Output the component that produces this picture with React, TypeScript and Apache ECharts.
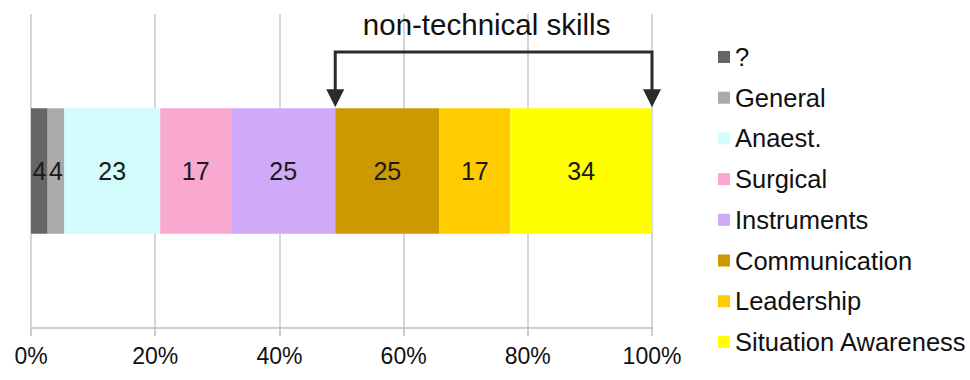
import React, { useEffect, useRef } from "react";
import * as echarts from "echarts";

// One stacked bar of error counts by category, axis shown as share of the total
const categories = ["Errors"];
const seriesNames = [
  "?",
  "General",
  "Anaest.",
  "Surgical",
  "Instruments",
  "Communication",
  "Leadership",
  "Situation Awareness",
];
const seriesValues = [4, 4, 23, 17, 25, 25, 17, 34];
const seriesColors = [
  "#666666",
  "#aaaaaa",
  "#d2fbfb",
  "#f9a8d0",
  "#d0aaf9",
  "#cc9a00",
  "#ffcc00",
  "#ffff00",
];
const tickCount = 5; // 0%, 20%, ... 100%
const bracketTitle = "non-technical skills";
const bracketFromIndex = 5; // first series counted as a non-technical skill

const FONT = "'Liberation Sans', Arial, sans-serif";
const GRID = { left: 31, right: 318, top: 14, bottom: 52 };
const BAR_RATIO = 0.4;
const INK = "#2b2b2b";

export default function App() {
  const ref = useRef<HTMLDivElement>(null);

  useEffect(() => {
    if (!ref.current) return;
    const chart = echarts.init(ref.current, undefined, { renderer: "svg" });
    const total = seriesValues.reduce((a, b) => a + b, 0);

    chart.setOption({
      animation: false,
      textStyle: { fontFamily: FONT },
      grid: { ...GRID, containLabel: false },
      legend: {
        orient: "vertical",
        left: 718,
        top: 44,
        padding: 0,
        itemWidth: 12,
        itemHeight: 12,
        itemGap: 14.7,
        icon: "rect",
        data: seriesNames,
        selectedMode: false,
        textStyle: { fontSize: 25.5, color: "#111", lineHeight: 26, fontFamily: FONT },
      },
      xAxis: {
        type: "value",
        min: 0,
        max: total,
        interval: total / tickCount,
        axisLine: { show: true, lineStyle: { color: "#bdbdbd", width: 1.5 } },
        axisTick: { show: true, length: 8, lineStyle: { color: "#bdbdbd", width: 1.5 } },
        splitLine: { show: true, lineStyle: { color: "#c8c8c8", width: 1.5 } },
        axisLabel: {
          margin: 16,
          fontSize: 23,
          color: "#111",
          fontFamily: FONT,
          formatter: (v: number) => Math.round((v / total) * 100) + "%",
        },
      },
      yAxis: {
        type: "category",
        data: categories,
        axisLine: { show: false },
        axisTick: { show: false },
        axisLabel: { show: false },
      },
      series: seriesNames.map((name, i) => ({
        name,
        type: "bar",
        stack: "all",
        barWidth: `${BAR_RATIO * 100}%`,
        data: [seriesValues[i]],
        itemStyle: { color: seriesColors[i] },
        label: {
          show: true,
          position: "inside",
          fontSize: 25,
          color: "#1a1a1a",
          fontFamily: FONT,
          formatter: "{c}",
        },
      })),
    });

    // Bracket over the non-technical skills, placed via the chart's own scales
    const startVal = seriesValues.slice(0, bracketFromIndex).reduce((a, b) => a + b, 0);
    const x1 = chart.convertToPixel({ xAxisIndex: 0 }, startVal) as number;
    const x2 = chart.convertToPixel({ xAxisIndex: 0 }, total) as number;
    const yc = chart.convertToPixel({ yAxisIndex: 0 }, categories[0]) as number;
    const plotH = 380 - GRID.top - GRID.bottom;
    const barTop = yc - (plotH * BAR_RATIO) / 2;
    const lineY = 52;
    const headH = 18;
    const headW = 18;
    const tipY = barTop - 1;
    const shaftEnd = tipY - headH + 1;

    const head = (x: number) => ({
      type: "polygon",
      shape: {
        points: [
          [x - headW / 2, tipY - headH],
          [x + headW / 2, tipY - headH],
          [x, tipY],
        ],
      },
      style: { fill: INK },
    });

    chart.setOption({
      graphic: [
        {
          type: "polyline",
          shape: {
            points: [
              [x1, shaftEnd],
              [x1, lineY],
              [x2, lineY],
              [x2, shaftEnd],
            ],
          },
          style: { stroke: INK, lineWidth: 3, fill: null },
        },
        head(x1),
        head(x2),
        {
          type: "text",
          x: (x1 + x2) / 2 - 7,
          y: 24,
          style: {
            text: bracketTitle,
            fontSize: 29.5,
            fontFamily: FONT,
            fill: "#111",
            textAlign: "center",
            textVerticalAlign: "middle",
          },
        },
      ],
    });

    return () => chart.dispose();
  }, []);

  return (
    <div
      ref={ref}
      style={{ position: "fixed", left: 0, top: 0, width: 970, height: 380, background: "#fff" }}
    />
  );
}
